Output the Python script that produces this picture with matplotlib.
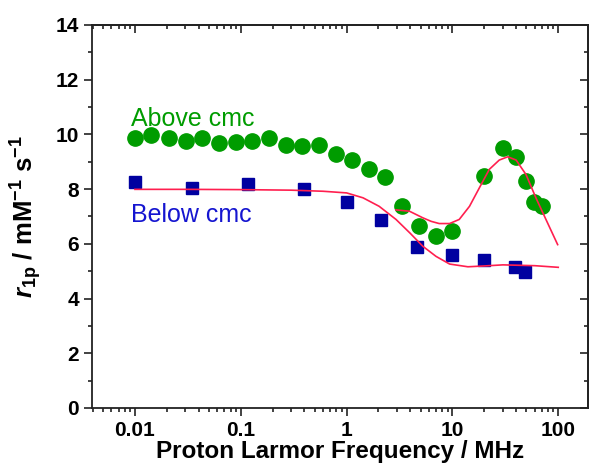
import numpy as np
import matplotlib
matplotlib.use("Agg")
import matplotlib.pyplot as plt
from matplotlib.ticker import FixedLocator, NullFormatter, MultipleLocator

plt.rcParams['font.family'] = ['Liberation Sans', 'DejaVu Sans']
plt.rcParams['mathtext.fontset'] = 'custom'
plt.rcParams['mathtext.rm'] = 'Liberation Sans:bold'
plt.rcParams['mathtext.bf'] = 'Liberation Sans:bold'
plt.rcParams['mathtext.it'] = 'Liberation Sans:bold:italic'
plt.rcParams['axes.unicode_minus'] = False

# данные: выше ККМ (кружки)
above_f = [0.010, 0.0141, 0.0211, 0.0303, 0.0432, 0.0624, 0.0898, 0.129, 0.184,
           0.266, 0.382, 0.545, 0.80, 1.13, 1.62, 2.33, 3.33, 4.81, 6.92, 9.93,
           20.0, 29.9, 39.9, 49.6, 59.4, 70.2]
above_r = [9.85, 9.97, 9.85, 9.75, 9.85, 9.69, 9.72, 9.75, 9.88,
           9.60, 9.57, 9.61, 9.29, 9.05, 8.75, 8.45, 7.37, 6.64, 6.30, 6.45,
           8.47, 9.49, 9.18, 8.29, 7.52, 7.37]

# данные: ниже ККМ (квадраты)
below_f = [0.010, 0.0343, 0.117, 0.40, 1.0, 2.12, 4.6, 9.9, 19.7, 39.3, 48.9]
below_r = [8.27, 8.05, 8.19, 8.02, 7.53, 6.86, 5.89, 5.58, 5.42, 5.15, 4.96]

# аппроксимирующие кривые
fit_below_f = [0.01, 0.03, 0.1, 0.3, 0.6, 1.0, 1.43, 2.03, 2.93, 4.0, 5.25, 7.0,
               9.4, 14, 20, 30, 60, 100]
fit_below_r = [7.99, 7.99, 7.98, 7.96, 7.92, 7.86, 7.68, 7.37, 6.89, 6.38, 5.91, 5.54,
               5.26, 5.16, 5.19, 5.23, 5.20, 5.14]
fit_above_f = [2.93, 3.93, 5.25, 6.3, 7.5, 9.4, 11.6, 14.5, 18, 22.3, 27.7, 33.3, 40,
               49.6, 61.5, 76.5, 98.7]
fit_above_r = [7.24, 7.19, 6.95, 6.82, 6.74, 6.74, 6.89, 7.37, 8.05, 8.72, 9.06, 9.18, 9.06,
               8.53, 7.68, 6.89, 5.97]

xticks = [0.01, 0.1, 1, 10, 100]
xticklabels = ['0.01', '0.1', '1', '10', '100']

green = '#009c00'
navy = '#0000a0'
red = '#ff1f4f'

fig = plt.figure(figsize=(5.9, 4.7), dpi=100)
ax = fig.add_axes([0.156, 0.132, 0.841, 0.815])

ax.plot(fit_below_f, fit_below_r, '-', color=red, lw=1.2, zorder=3)
ax.plot(fit_above_f, fit_above_r, '-', color=red, lw=1.2, zorder=3)
ax.plot(above_f, above_r, 'o', color=green, ms=11, mec=green, zorder=2)
ax.plot(below_f, below_r, 's', color=navy, ms=9, mec=navy, zorder=2)

ax.set_xscale('log')
ax.set_xlim(0.00393, 192)
ax.set_ylim(0, 14)

ax.xaxis.set_major_locator(FixedLocator(xticks))
ax.set_xticklabels(xticklabels)
minors = [m * 10.0 ** e for e in range(-3, 3) for m in range(2, 10)]
ax.xaxis.set_minor_locator(FixedLocator(minors))
ax.xaxis.set_minor_formatter(NullFormatter())
ax.yaxis.set_major_locator(MultipleLocator(2))
ax.yaxis.set_minor_locator(MultipleLocator(1))

ax.tick_params(which='both', direction='out', width=1.2, color='#222222',
               labelsize=15, top=False, right=False)
ax.tick_params(which='major', length=6)
ax.tick_params(which='minor', length=3)
for lab in ax.get_xticklabels() + ax.get_yticklabels():
    lab.set_fontweight('bold')

# верхняя и правая оси - штрихи внутрь
sx = ax.secondary_xaxis('top')
sx.xaxis.set_major_locator(FixedLocator(xticks))
sx.xaxis.set_minor_locator(FixedLocator(minors))
sx.xaxis.set_major_formatter(NullFormatter())
sx.xaxis.set_minor_formatter(NullFormatter())
sx.tick_params(which='both', direction='in', width=1.2, color='#222222')
sx.tick_params(which='major', length=6)
sx.tick_params(which='minor', length=3)
sy = ax.secondary_yaxis('right')
sy.yaxis.set_major_locator(MultipleLocator(2))
sy.yaxis.set_minor_locator(MultipleLocator(1))
sy.yaxis.set_major_formatter(NullFormatter())
sy.tick_params(which='both', direction='in', width=1.2, color='#222222')
sy.tick_params(which='major', length=6)
sy.tick_params(which='minor', length=3)

for s in list(ax.spines.values()) + [sx.spines['top'], sy.spines['right']]:
    s.set_linewidth(1.3)
    s.set_color('#222222')

ax.set_xlabel('Proton Larmor Frequency / MHz', fontsize=17.5, fontweight='bold', labelpad=0)
ax.set_ylabel(r'$\mathit{r}_{\mathrm{1p}}$ / mM$^{\mathrm{-1}}$ s$^{\mathrm{-1}}$',
              fontsize=18.5, fontweight='bold', labelpad=8)

ax.text(0.0092, 10.3, 'Above cmc', color=green, fontsize=18, va='baseline')
ax.text(0.0092, 6.81, 'Below cmc', color='#1515d0', fontsize=18, va='baseline')

fig.savefig('out.png', dpi=100)
